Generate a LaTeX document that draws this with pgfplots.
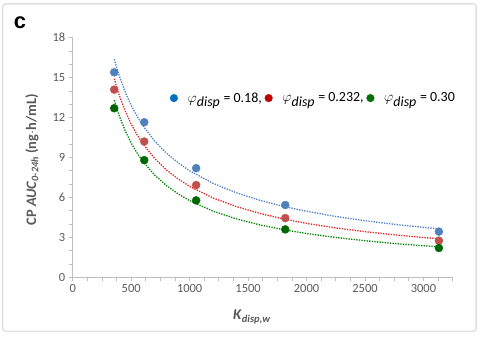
\documentclass[border=0pt]{standalone}
\usepackage{pgfplots}
\pgfplotsset{compat=1.18}
\usepackage{fontspec}
\setmainfont{Carlito}
\newfontfamily\arialfont{Liberation Sans}
\definecolor{tickgray}{HTML}{595959}
\definecolor{axgray}{HTML}{BFBFBF}
\definecolor{bluept}{HTML}{4F81BD}
\definecolor{redpt}{HTML}{C0504D}
\definecolor{greenpt}{HTML}{006600}
\definecolor{blueln}{HTML}{4A7EC8}
\definecolor{redln}{HTML}{E02020}
\definecolor{greenln}{HTML}{008000}
\definecolor{legblue}{HTML}{0070C0}
\definecolor{legred}{HTML}{C00000}
\definecolor{leggreen}{HTML}{007000}
\begin{document}
\begin{tikzpicture}
\useasboundingbox (-72.7bp,-60.7bp) rectangle (412.3bp,277.3bp);
\draw[rounded corners=3bp, color=black!12, line width=1.5bp] (-70bp,-54bp) rectangle (403.5bp,273.5bp);
\node[font=\arialfont\bfseries\fontsize{22}{22}\selectfont, anchor=center] at (-52.7bp,255bp) {c};
\begin{axis}[
  scale only axis, width=380bp, height=239.6bp,
  xmin=0, xmax=3250, ymin=0, ymax=18,
  axis x line=bottom, axis y line=left,
  axis line style={-, draw=axgray, line width=0.8bp},
  xtick={0,500,...,3000}, minor xtick={125,250,...,3250},
  ytick={0,3,...,18}, minor ytick={1,2,...,18},
  tick align=outside,
  major tick length=4bp, minor tick length=4bp,
  every tick/.style={draw=axgray, line width=0.8bp},
  ticklabel style={font=\fontsize{12.5}{12.5}\selectfont, text=tickgray},
  /pgf/number format/assume math mode=true,
  /pgf/number format/set thousands separator={},
  xlabel={\textbf{\textit{K}}\textsubscript{\textbf{\textit{disp,w}}}},
  xlabel style={at={(axis description cs:0.472,-0.165)}, anchor=center, font=\fontsize{15}{15}\selectfont, text=tickgray},
  ylabel={\textbf{CP \textit{AUC}\textsubscript{\textit{0-24h}} (ng$\cdot$h/mL)}},
  ylabel style={at={(axis description cs:-0.107,0.49)}, anchor=center, rotate=0, font=\fontsize{14.5}{14.5}\selectfont, text=tickgray},
  legend style={at={(axis description cs:0.248,0.748)}, anchor=west, draw=none, fill=none,
    font=\fontsize{14}{14}\selectfont, legend cell align=left,
    /tikz/every even column/.append style={column sep=1bp},
    /tikz/every odd column/.append style={column sep=8bp}},
  legend columns=3,
]
\addplot[only marks, mark=*, mark size=4bp, color=bluept, forget plot] coordinates {(355,15.4) (612,11.65) (1056,8.2) (1818,5.43) (3132,3.43)};
\addplot[only marks, mark=*, mark size=4bp, color=redpt, forget plot] coordinates {(355,14.1) (612,10.2) (1056,6.93) (1818,4.45) (3132,2.75)};
\addplot[only marks, mark=*, mark size=4bp, color=greenpt, forget plot] coordinates {(355,12.7) (612,8.8) (1056,5.78) (1818,3.6) (3132,2.2)};
\addplot[blueln, line width=1.3bp, dash pattern=on 1.3bp off 1.3bp, forget plot] coordinates {
(355,16.38) (400,15.09) (450,13.90) (500,12.92) (550,12.10) (600,11.40) (700,10.25) (800,9.34) (900,8.62) (1000,8.00) (1200,7.06) (1400,6.35) (1600,5.79) (1800,5.33) (2000,4.96) (2250,4.57) (2500,4.25) (2750,3.98) (3000,3.75) (3132,3.64)};
\addplot[redln, line width=1.3bp, dash pattern=on 1.3bp off 1.3bp, forget plot] coordinates {
(355,14.91) (400,13.63) (450,12.47) (500,11.51) (550,10.72) (600,10.04) (700,8.94) (800,8.08) (900,7.40) (1000,6.83) (1200,5.96) (1400,5.31) (1600,4.80) (1800,4.39) (2000,4.05) (2250,3.71) (2500,3.43) (2750,3.19) (3000,2.99) (3132,2.89)};
\addplot[greenln, line width=1.3bp, dash pattern=on 1.3bp off 1.3bp, forget plot] coordinates {
(355,13.31) (400,12.09) (450,10.99) (500,10.09) (550,9.34) (600,8.71) (700,7.69) (800,6.90) (900,6.28) (1000,5.76) (1200,4.97) (1400,4.39) (1600,3.94) (1800,3.58) (2000,3.29) (2250,2.99) (2500,2.75) (2750,2.54) (3000,2.37) (3132,2.29)};
\addlegendimage{only marks, mark=*, mark size=3.8bp, color=legblue}
\addlegendentry{$\varphi_{\textit{disp}}$ = 0.18,}
\addlegendimage{only marks, mark=*, mark size=3.8bp, color=legred}
\addlegendentry{$\varphi_{\textit{disp}}$ = 0.232,}
\addlegendimage{only marks, mark=*, mark size=3.8bp, color=leggreen}
\addlegendentry{$\varphi_{\textit{disp}}$ = 0.30}
\end{axis}
\end{tikzpicture}
\end{document}
